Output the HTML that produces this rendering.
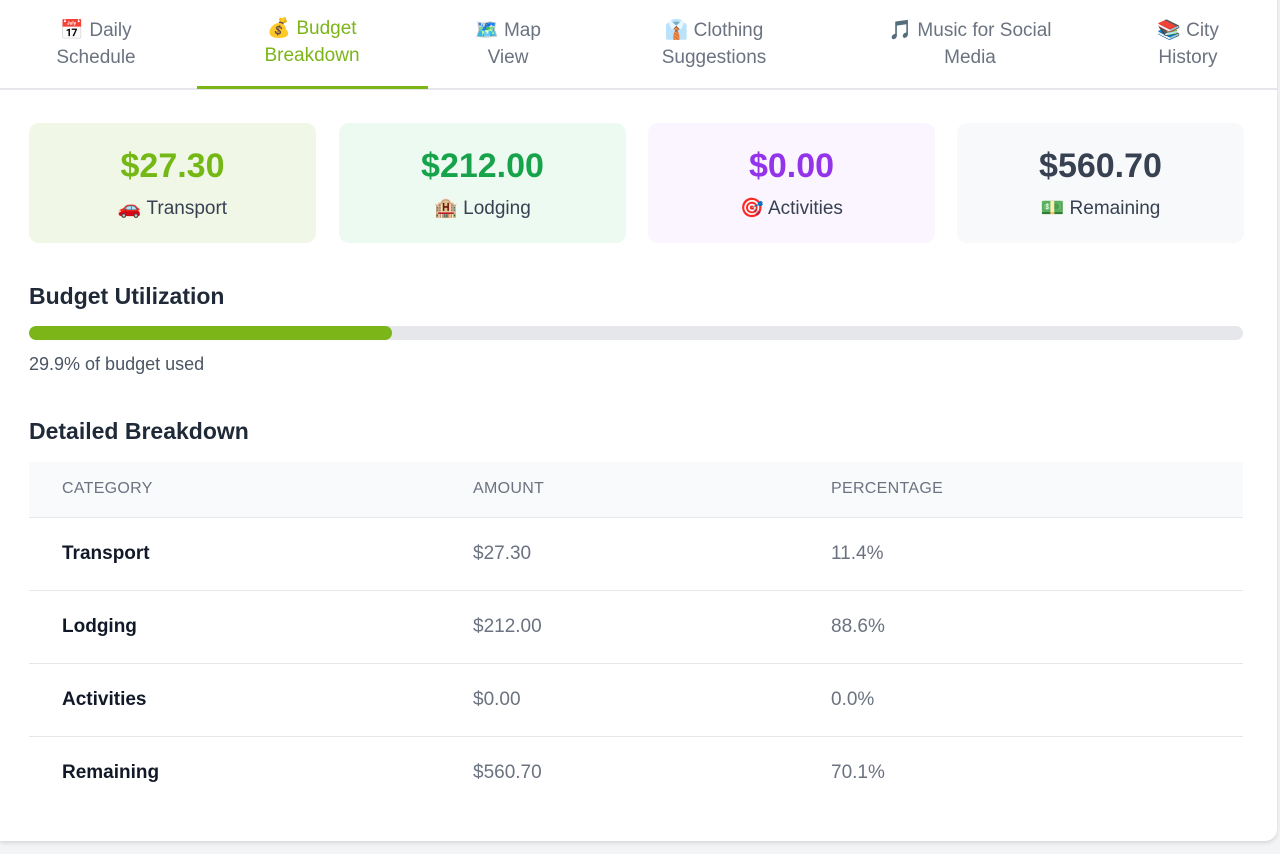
<!DOCTYPE html>
<html><head><meta charset="utf-8">
<style>
*{box-sizing:border-box;margin:0;padding:0}
body{width:1280px;height:854px;background:#f3f4f6;font-family:"Liberation Sans","Noto Sans CJK JP",sans-serif;position:relative;overflow:hidden}
#card{position:absolute;left:0;top:-10px;width:1277px;height:851px;background:#fff;border-radius:0 0 12px 0;box-shadow:0 2px 4px rgba(0,0,0,.12)}
.tabs{position:absolute;left:0;top:10px;width:1277px;height:90px;border-bottom:2px solid #e5e7eb}
.tab{position:absolute;top:17px;text-align:center;font-size:19px;line-height:27px;color:#6b7280;transform:translateX(-50%);white-space:nowrap}
.tab.active{color:#7cb518}
.uline{position:absolute;left:197px;top:86px;width:231px;height:3px;background:#7cb518}
.stat{position:absolute;top:133px;width:287px;height:120px;border-radius:10px;text-align:center}
.stat .v{font-size:34px;font-weight:bold;margin-top:23px;line-height:40px}
.stat .l{font-size:19px;color:#374151;margin-top:10px}
h2{position:absolute;left:29px;font-size:23px;font-weight:bold;color:#1f2937}
.track{position:absolute;left:29px;top:336px;width:1214px;height:14px;border-radius:7px;background:#e5e7eb;overflow:hidden}
.fill{height:14px;background:#7cb518;border-radius:7px}
.used{position:absolute;left:29px;top:364px;font-size:18px;color:#4b5563}
table{position:absolute;left:29px;top:472px;width:1214px;border-collapse:collapse}
th{height:55px;background:#f9fafb;text-align:left;font-size:16px;font-weight:normal;color:#6b7280;letter-spacing:.3px;border-bottom:1px solid #e5e7eb}
td{height:73px;font-size:19px;color:#6b7280;border-bottom:1px solid #e5e7eb}
tr:last-child td{border-bottom:none}
th:first-child,td:first-child{padding-left:33px;width:444px}
th:nth-child(2),td:nth-child(2){width:358px}
td:first-child{color:#111827;font-weight:600}
</style></head><body>
<div id="card">
<div class="tabs">
<div class="tab" style="left:96px">📅 Daily<br>Schedule</div>
<div class="tab active" style="left:312px;top:15px">💰 Budget<br>Breakdown</div>
<div class="tab" style="left:508px">🗺️ Map<br>View</div>
<div class="tab" style="left:714px">👔 Clothing<br>Suggestions</div>
<div class="tab" style="left:970px">🎵 Music for Social<br>Media</div>
<div class="tab" style="left:1188px">📚 City<br>History</div>
<div class="uline"></div>
</div>
<div class="stat" style="left:29px;background:#f1f7e7"><div class="v" style="color:#74b816">$27.30</div><div class="l">🚗 Transport</div></div>
<div class="stat" style="left:339px;background:#edfaf1"><div class="v" style="color:#16a34a">$212.00</div><div class="l">🏨 Lodging</div></div>
<div class="stat" style="left:648px;background:#faf5ff"><div class="v" style="color:#9333ea">$0.00</div><div class="l">🎯 Activities</div></div>
<div class="stat" style="left:957px;background:#f8f9fb"><div class="v" style="color:#374151">$560.70</div><div class="l">💵 Remaining</div></div>
<h2 style="top:293px">Budget Utilization</h2>
<div class="track"><div class="fill" id="fill"></div></div>
<div class="used" id="used"></div>
<h2 style="top:428px">Detailed Breakdown</h2>
<table>
<thead><tr><th>CATEGORY</th><th>AMOUNT</th><th>PERCENTAGE</th></tr></thead>
<tbody id="tb"></tbody></table>
</div>
<script>
const usedPct = 29.9;
const categories = ["Transport","Lodging","Activities","Remaining"];
const amounts = ["$27.30","$212.00","$0.00","$560.70"];
const percents = ["11.4%","88.6%","0.0%","70.1%"];
document.getElementById('fill').style.width = usedPct + '%';
document.getElementById('used').textContent = usedPct.toFixed(1) + '% of budget used';
const tb = document.getElementById('tb');
categories.forEach((c,i)=>{
  const tr = document.createElement('tr');
  
  
  [c, amounts[i], percents[i]].forEach(t=>{const td=document.createElement('td');td.textContent=t;tr.appendChild(td);});
  tb.appendChild(tr);
});
</script>
</body></html>
